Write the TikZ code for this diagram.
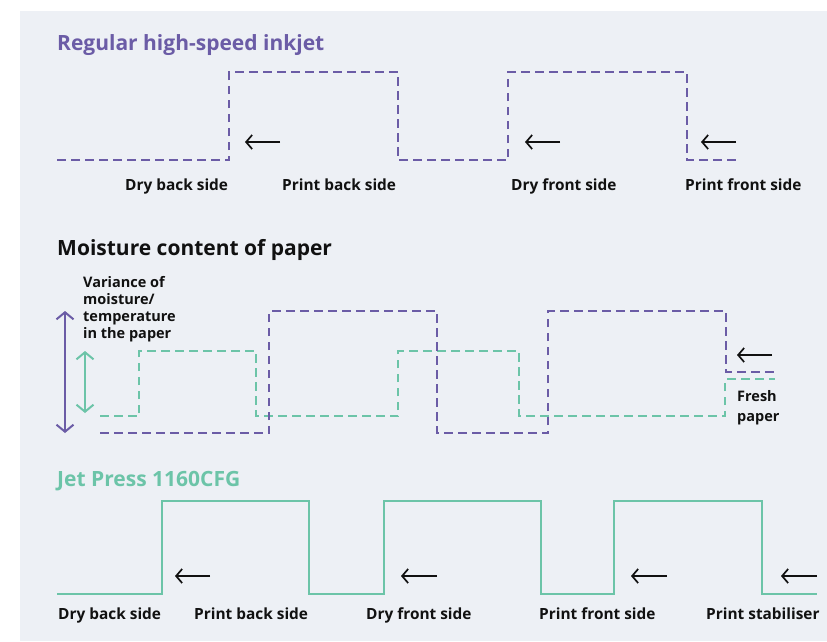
\documentclass[tikz,border=0pt]{standalone}
\usepackage{fontspec}
\setmainfont{Open Sans}
\usetikzlibrary{arrows.meta}
\definecolor{bgc}{HTML}{EDF0F5}
\definecolor{purp}{HTML}{6B5CA6}
\definecolor{grn}{HTML}{6CC4A8}
\definecolor{ink}{HTML}{111111}
\tikzset{
  ttl/.style={anchor=base west, inner sep=0pt, font=\fontsize{21}{24}\selectfont\bfseries},
  lbl/.style={anchor=base west, inner sep=0pt, text=ink, font=\fontsize{15.4}{18}\selectfont\bfseries},
  note/.style={anchor=north west, inner sep=0pt, text=ink, align=left, font=\fontsize{14.5}{17.2}\selectfont\bfseries},
  dashp/.style={draw=purp, line width=2.3pt, dash pattern=on 8.5pt off 5.5pt},
  dashg/.style={draw=grn, line width=2.3pt, dash pattern=on 8.5pt off 5.5pt},
  solg/.style={draw=grn, line width=2.3pt},
  larrow/.style={draw=ink, line width=1.7pt, -{Straight Barb[length=6pt,width=14pt,line width=1.7pt]}},
  varrow/.style={line width=2pt, {Straight Barb[length=7pt,width=17pt]}-{Straight Barb[length=7pt,width=17pt]}}
}
\begin{document}
\begin{tikzpicture}[x=1pt,y=-1pt]
\useasboundingbox (0,0) rectangle (827,641);
\fill[bgc] (20,11) rectangle (827,641);

% ---------- Regular high-speed inkjet ----------
\node[ttl, text=purp] (t1) at (57,50) {Regular high-speed inkjet};
\draw[dashp] (57,160) -- (229,160) -- (229,72) -- (398,72) -- (398,160) -- (508,160) -- (508,72) -- (687,72) -- (687,160) -- (737,160);
\coordinate (a1s) at (280,142); \coordinate (a1e) at (245,142);
\coordinate (a2s) at (560,142); \coordinate (a2e) at (525,142);
\coordinate (a3s) at (736,142); \coordinate (a3e) at (701,142);
\draw[larrow] (a1s) -- (a1e);
\draw[larrow] (a2s) -- (a2e);
\draw[larrow] (a3s) -- (a3e);
\node[lbl] (l1) at (125,190.5) {Dry back side};
\node[lbl] (l2) at (282,190.5) {Print back side};
\node[lbl] (l3) at (511,190.5) {Dry front side};
\node[lbl] (l4) at (685,190.5) {Print front side};

% ---------- Moisture content of paper ----------
\node[ttl, text=ink] (t2) at (57,255.5) {Moisture content of paper};
\node[note] (var) at (83,276) {Variance of\\moisture/\\temperature\\in the paper};
\coordinate (pv1) at (65,311); \coordinate (pv2) at (65,433);
\coordinate (gv1) at (85,351); \coordinate (gv2) at (85,413);
\draw[varrow, draw=purp] (pv1) -- (pv2);
\draw[varrow, draw=grn] (gv1) -- (gv2);
\draw[dashg] (100,416) -- (139,416) -- (139,351) -- (256,351) -- (256,416) -- (398,416) -- (398,351) -- (519,351) -- (519,416) -- (725,416) -- (725,379) -- (775,379);
\draw[dashp] (100,433) -- (269,433) -- (269,311) -- (437,311) -- (437,433) -- (548,433) -- (548,311) -- (726,311) -- (726,372) -- (775,372);
\coordinate (a4s) at (772,355); \coordinate (a4e) at (737,355);
\draw[larrow] (a4s) -- (a4e);
\node[note, font=\fontsize{14.5}{20}\selectfont\bfseries] (fresh) at (737,390.5) {Fresh\\paper};

% ---------- Jet Press 1160CFG ----------
\node[ttl, text=grn] (t3) at (57,486) {Jet Press 1160CFG};
\draw[solg] (57,594) -- (162,594) -- (162,501) -- (309,501) -- (309,594) -- (384,594) -- (384,501) -- (541,501) -- (541,594) -- (614,594) -- (614,501) -- (762,501) -- (762,594) -- (817,594);
\coordinate (b1s) at (210,576); \coordinate (b1e) at (175,576);
\coordinate (b2s) at (437,576); \coordinate (b2e) at (401,576);
\coordinate (b3s) at (667,576); \coordinate (b3e) at (631,576);
\coordinate (b4s) at (817,576); \coordinate (b4e) at (781,576);
\draw[larrow] (b1s) -- (b1e);
\draw[larrow] (b2s) -- (b2e);
\draw[larrow] (b3s) -- (b3e);
\draw[larrow] (b4s) -- (b4e);
\node[lbl] (m1) at (58,619) {Dry back side};
\node[lbl] (m2) at (194,619) {Print back side};
\node[lbl] (m3) at (366,619) {Dry front side};
\node[lbl] (m4) at (539,619) {Print front side};
\node[lbl] (m5) at (706,619) {Print stabiliser};
\end{tikzpicture}
\end{document}
